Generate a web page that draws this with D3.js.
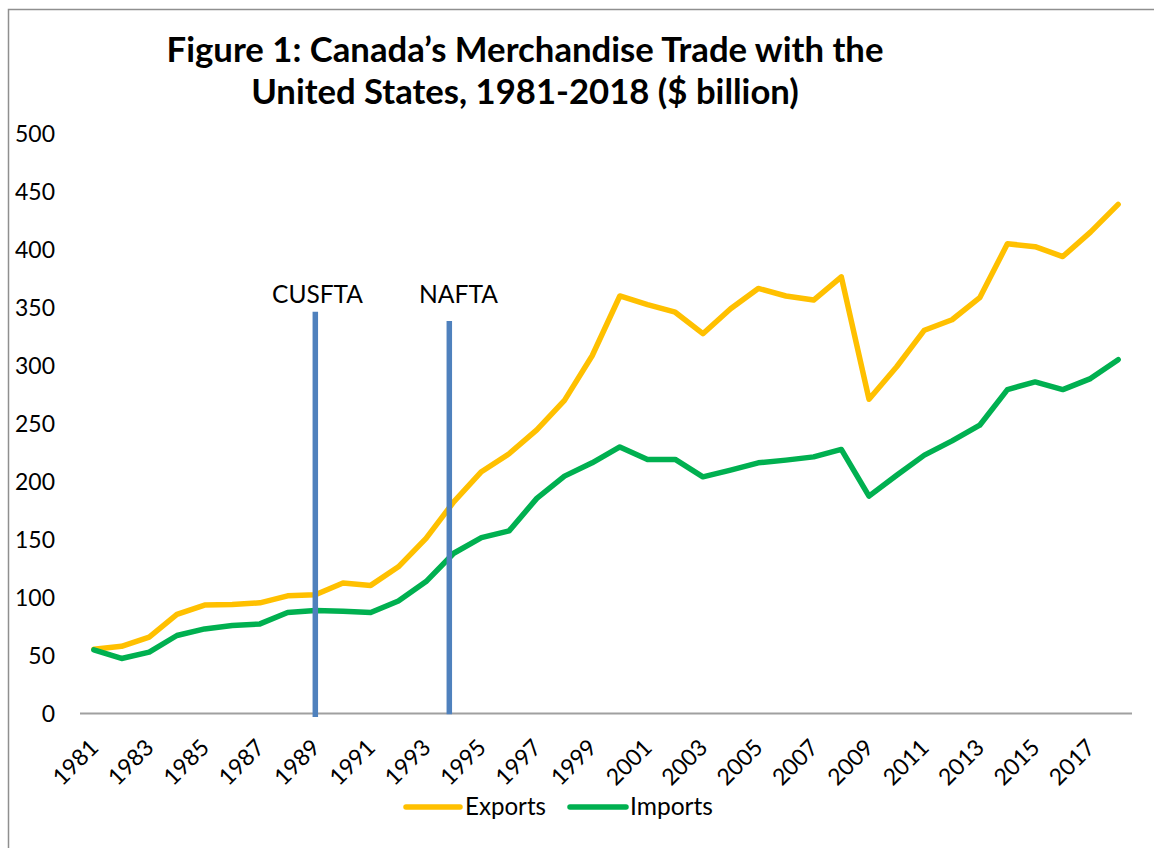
<!DOCTYPE html>
<html><head><meta charset="utf-8">
<script src="https://cdn.jsdelivr.net/npm/d3@7"></script>
<style>html,body{margin:0;padding:0;background:#fff;} svg{display:block;font-family:Lato,"Open Sans",sans-serif;}</style>
</head><body>
<svg id="chart" width="1154" height="848"></svg>
<script>
const years = d3.range(1981, 2019);
const exportsVals = [55,57.5,65.5,85,93,93.5,95,101,102,112,110,126,150.5,182,208,223.5,244,269.5,308,359.5,352,345.5,327,348.5,366,359.5,356,376,270.5,298.5,330,339,358,404.5,402,393.5,414.5,438.5];
const importsVals = [54.5,47,52.5,66.8,72.5,75.4,76.8,86.6,88.3,87.8,86.6,96.5,113.3,137.7,151.2,157,185,204.2,215.7,229.4,218.6,218.6,203.6,209.4,215.7,218,220.8,227.2,187,205,222.3,234.6,248.1,278.8,285.4,278.8,288.3,304.6];
const yTicks = [0,50,100,150,200,250,300,350,400,450,500];
const xTickYears = d3.range(1981, 2019, 2);
const titleLines = ["Figure 1: Canada\u2019s Merchandise Trade with the", "United States, 1981-2018 ($ billion)"];
const seriesNames = ["Exports", "Imports"];
const seriesColors = ["#FFC000", "#00B050"];
const markers = [{label:"CUSFTA", year:1989, top:346, bottom:-3.5}, {label:"NAFTA", year:1993.84, top:338, bottom:-1}];

const svg = d3.select("#chart");
const W = 1154, H = 848;

function fit(sel, target) {
  const n = sel.node();
  const len = n.getComputedTextLength();
  const fs = parseFloat(sel.attr("font-size"));
  sel.attr("font-size", (fs * target / len).toFixed(2));
}

// chart area border
svg.append("rect").attr("x", 8.5).attr("y", 9.5).attr("width", W + 20).attr("height", H + 20)
  .attr("fill", "none").attr("stroke", "#8f8f8f").attr("stroke-width", 1.5);

const x = d3.scaleBand().domain(years).range([80, 1132]).padding(0);
const cx = d => x(d) + x.bandwidth() / 2;
const xLin = d3.scaleLinear().domain([1981, 2018]).range([cx(1981), cx(2018)]);
const y = d3.scaleLinear().domain([0, 500]).range([713, 133]);

// title
const t1 = svg.append("text").attr("x", 525).attr("y", 62).attr("text-anchor", "middle")
  .attr("font-weight", "bold").attr("font-size", 30).attr("fill", "#000").text(titleLines[0]);
fit(t1, 717);
const t2 = svg.append("text").attr("x", 525).attr("y", 104).attr("text-anchor", "middle")
  .attr("font-weight", "bold").attr("font-size", 30).attr("fill", "#000").text(titleLines[1]);
fit(t2, 548);

// y axis labels
const yAxis = d3.axisLeft(y).tickValues(yTicks).tickSize(0).tickPadding(0).tickFormat(d3.format("d"));
const gy = svg.append("g").attr("transform", "translate(55,0)").call(yAxis);
gy.select(".domain").remove();
gy.selectAll("text").attr("font-family", "Lato").attr("font-size", 22).attr("fill", "#000").attr("dy", "0.35em");
// fit label size on "500"
{
  const n500 = gy.selectAll("text").filter(d => d === 500);
  const len = n500.node().getComputedTextLength();
  const fs = 22 * 40 / len;
  gy.selectAll("text").attr("font-size", fs);
  window._fs = fs;
}
const tickFs = window._fs;

// x axis line
svg.append("line").attr("x1", 80).attr("x2", 1132).attr("y1", 713.5).attr("y2", 713.5)
  .attr("stroke", "#a0a0a0").attr("stroke-width", 2);

// x labels
const gx = svg.append("g");
gx.selectAll("text").data(xTickYears).join("text")
  .attr("text-anchor", "end")
  .attr("transform", d => `translate(${cx(d) + 6},749) rotate(-45)`)
  .attr("font-size", tickFs).attr("fill", "#000").text(d => d);

// lines
const line = d3.line().x((d, i) => cx(years[i])).y(d => y(d));
[exportsVals, importsVals].forEach((vals, k) => {
  svg.append("path").datum(vals).attr("d", line).attr("fill", "none")
    .attr("stroke", seriesColors[k]).attr("stroke-width", 5.5)
    .attr("stroke-linejoin", "round").attr("stroke-linecap", "round");
});

// marker lines
markers.forEach(m => {
  svg.append("line").attr("x1", xLin(m.year)).attr("x2", xLin(m.year))
    .attr("y1", y(m.top)).attr("y2", y(m.bottom))
    .attr("stroke", "#4F81BD").attr("stroke-width", 5.5);
});
const lab1 = svg.append("text").attr("x", 317.5).attr("y", 303).attr("text-anchor", "middle")
  .attr("font-size", 22).attr("fill", "#000").text(markers[0].label);
fit(lab1, 91);
const lab2 = svg.append("text").attr("x", 458.5).attr("y", 303).attr("text-anchor", "middle")
  .attr("font-size", 22).attr("fill", "#000").text(markers[1].label);
fit(lab2, 79);

// legend
const legendPos = [{x1: 406, x2: 460, tx: 465, tw: 81}, {x1: 570, x2: 626, tx: 630, tw: 83}];
seriesNames.forEach((name, k) => {
  const p = legendPos[k];
  svg.append("line").attr("x1", p.x1).attr("x2", p.x2).attr("y1", 807).attr("y2", 807)
    .attr("stroke", seriesColors[k]).attr("stroke-width", 5.5).attr("stroke-linecap", "round");
  const t = svg.append("text").attr("x", p.tx).attr("y", 815).attr("font-size", 22).attr("fill", "#000").text(name);
  fit(t, p.tw);
});
</script>
</body></html>
